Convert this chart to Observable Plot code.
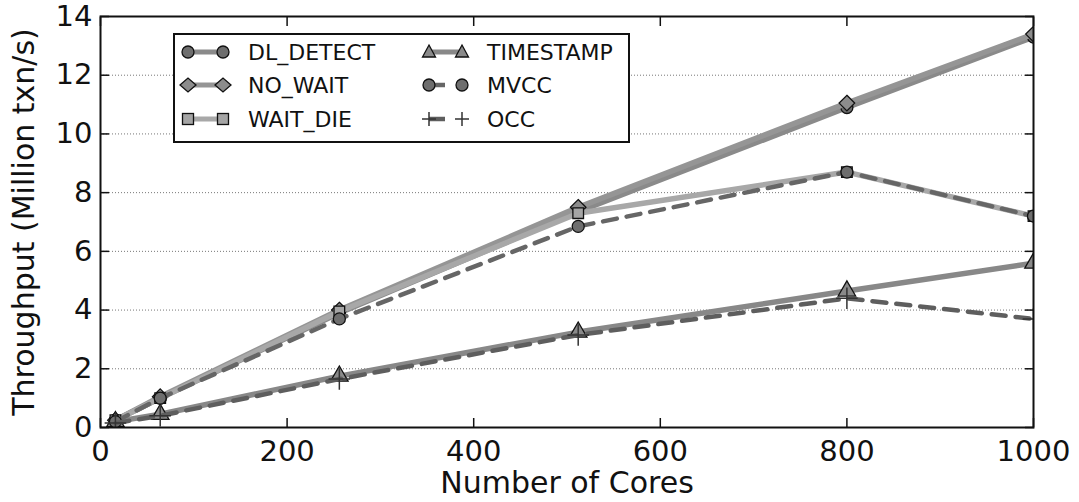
<!DOCTYPE html>
<html><head><meta charset="utf-8">
<script src="https://cdn.jsdelivr.net/npm/d3@7"></script>
<script src="https://cdn.jsdelivr.net/npm/@observablehq/plot@0.6"></script>
<style>
body{margin:0;background:#fff;}
#wrap{position:relative;width:1079px;height:502px;font-family:"DejaVu Sans",sans-serif;}
#legend{position:absolute;left:173px;top:33px;}
</style>
</head><body><div id="wrap"></div>
<script>
// ---- data ----
const cores = [16, 64, 256, 512, 800, 1000];
const seriesNames = ["DL_DETECT", "NO_WAIT", "WAIT_DIE", "TIMESTAMP", "MVCC", "OCC"];
const dlDetect  = [0.25, 1.0, 3.9, 7.35, 10.9, 13.3];
const noWait    = [0.25, 1.05, 4.0, 7.5, 11.05, 13.4];
const waitDie   = [0.25, 1.0, 3.95, 7.3, 8.7, 7.2];
const timestamp = [0.2, 0.45, 1.75, 3.25, 4.65, 5.6];
const mvcc      = [0.2, 1.0, 3.7, 6.85, 8.7, 7.2];
const occ       = [0.15, 0.4, 1.65, 3.15, 4.4, 3.7];
const xTicks = [0, 200, 400, 600, 800, 1000];
const yTicks = [0, 2, 4, 6, 8, 10, 12, 14];
const xLabel = "Number of Cores";
const yLabel = "Throughput (Million txn/s)";

// ---- styles ----
const seriesValues = [dlDetect, noWait, waitDie, timestamp, mvcc, occ];
const styles = [
  {line:"#8a8a8a", dash:null, symbol:"circle", fill:"#6e6e6e", r:6},
  {line:"#959595", dash:null, symbol:"diamond2", fill:"#8c8c8c", r:7},
  {line:"#a8a8a8", dash:null, symbol:"square", fill:"#a5a5a5", r:6},
  {line:"#888888", dash:null, symbol:"triangle", fill:"#8a8a8a", r:6.5},
  {line:"#666666", dash:"14,10", symbol:"circle", fill:"#6e6e6e", r:6},
  {line:"#5e5e5e", dash:"14,10", symbol:"plus", fill:"none", r:7}
];

const marks = [];
marks.push(Plot.gridY(yTicks.filter(d => d > 0 && d < 14), {stroke:"#777", strokeOpacity:1, strokeWidth:1, strokeDasharray:"1,2"}));
seriesNames.forEach((name, i) => {
  const data = cores.map((c, j) => ({x:c, y:seriesValues[i][j], s:name}));
  const st = styles[i];
  marks.push(Plot.line(data, {x:"x", y:"y", stroke:st.line, strokeWidth:st.dash ? 4.5 : 5.5, strokeDasharray:st.dash, strokeLinejoin:"round", clip:true}));
  if (st.symbol === "plus") {
    marks.push(Plot.dot(data, {x:"x", y:"y", symbol:"plus", r:st.r, stroke:"#333", strokeWidth:1.5, fill:"none", clip:true}));
  } else {
    marks.push(Plot.dot(data, {x:"x", y:"y", symbol:st.symbol, r:st.r, fill:st.fill, stroke:"#111", strokeWidth:1.3, clip:true}));
  }
});
marks.push(Plot.frame({stroke:"#111", strokeWidth:2}));
// inward ticks on all four sides
const tickOpts = {tickSize:-9, tickFormat:() => "", strokeWidth:1.5, stroke:"#111", label:null};
marks.push(Plot.axisX(xTicks, {anchor:"bottom", ...tickOpts}));
marks.push(Plot.axisX(xTicks, {anchor:"top", ...tickOpts}));
marks.push(Plot.axisY(yTicks, {anchor:"left", ...tickOpts}));
marks.push(Plot.axisY(yTicks, {anchor:"right", ...tickOpts}));
// tick labels
marks.push(Plot.axisX(xTicks, {anchor:"bottom", tickSize:0, tickPadding:13, label:null, fill:"#111", tickFormat:d => String(d)}));
marks.push(Plot.axisY(yTicks, {anchor:"left", tickSize:0, tickPadding:8, label:null, fill:"#111", tickFormat:d => String(d)}));
// axis titles
marks.push(Plot.text([xLabel], {frameAnchor:"bottom", dy:56, fontSize:30, fill:"#111", lineAnchor:"middle", textAnchor:"middle"}));
marks.push(Plot.text([yLabel], {frameAnchor:"left", dx:-76, rotate:-90, fontSize:30, fill:"#111", lineAnchor:"middle", textAnchor:"middle"}));

const chart = Plot.plot({
  width:1079, height:502,
  marginLeft:100, marginRight:46, marginTop:16, marginBottom:75,
  x:{domain:[0,1000], axis:null},
  y:{domain:[0,14], axis:null},
  style:{fontFamily:"DejaVu Sans, sans-serif", fontSize:"29px", background:"#fff", overflow:"visible"},
  marks
});
const wrap = document.getElementById("wrap");
wrap.appendChild(chart);

// ---- legend ----
const ns = "http://www.w3.org/2000/svg";
const lg = document.createElementNS(ns, "svg");
lg.setAttribute("id", "legend");
lg.setAttribute("width", 458); lg.setAttribute("height", 111);
function el(tag, attrs, parent) {
  const e = document.createElementNS(ns, tag);
  for (const k in attrs) e.setAttribute(k, attrs[k]);
  (parent || lg).appendChild(e);
  return e;
}
el("rect", {x:1, y:1, width:455, height:108, fill:"#fff", stroke:"#111", "stroke-width":2});
const sym = {
  circle: (g, cx, cy, st) => el("circle", {cx, cy, r:6, fill:st.fill, stroke:"#111", "stroke-width":1.3}, g),
  diamond2: (g, cx, cy, st) => el("path", {d:`M${cx-8},${cy}L${cx},${cy-7}L${cx+8},${cy}L${cx},${cy+7}Z`, fill:st.fill, stroke:"#111", "stroke-width":1.3}, g),
  square: (g, cx, cy, st) => el("rect", {x:cx-5.5, y:cy-5.5, width:11, height:11, fill:st.fill, stroke:"#111", "stroke-width":1.3}, g),
  triangle: (g, cx, cy, st) => el("path", {d:`M${cx},${cy-7}L${cx+6.5},${cy+5}L${cx-6.5},${cy+5}Z`, fill:st.fill, stroke:"#111", "stroke-width":1.3}, g),
  plus: (g, cx, cy, st) => el("path", {d:`M${cx-7},${cy}H${cx+7}M${cx},${cy-7}V${cy+7}`, fill:"none", stroke:"#333", "stroke-width":1.5}, g)
};
const rowsY = [19, 52, 86];
const colX = [[15, 50, 75], [256, 289, 314]];
seriesNames.forEach((name, i) => {
  const col = Math.floor(i / 3), row = i % 3;
  const [x1, x2, tx] = colX[col];
  const y = rowsY[row];
  const st = styles[i];
  const g = el("g", {});
  if (st.dash) {
    el("line", {x1, y1:y, x2:x1 + 16, y2:y, stroke:st.line, "stroke-width":4.5}, g);
  } else {
    el("line", {x1, y1:y, x2, y2:y, stroke:st.line, "stroke-width":5}, g);
  }
  sym[st.symbol](g, x1, y, st);
  sym[st.symbol](g, x2, y, st);
  const t = el("text", {x:tx, y:y + 8, "font-size":22, "font-family":"DejaVu Sans, sans-serif", fill:"#111"}, g);
  t.textContent = name;
});
wrap.appendChild(lg);
</script>
</body></html>
